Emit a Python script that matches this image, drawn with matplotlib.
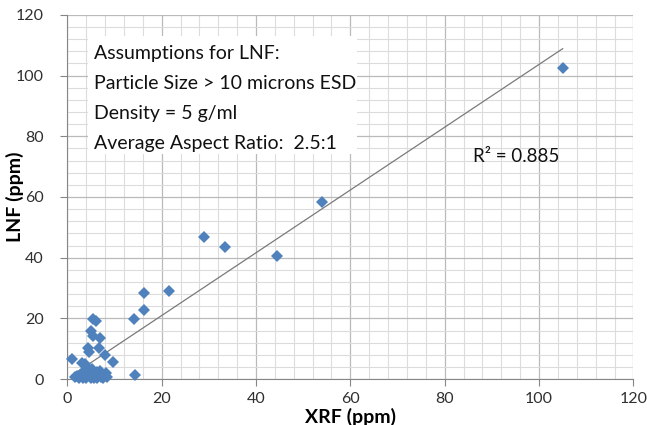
import matplotlib
matplotlib.use('Agg')
import matplotlib.pyplot as plt
from matplotlib.patches import Rectangle
from matplotlib.ticker import MultipleLocator
import numpy as np

plt.rcParams['font.family'] = ['Lato', 'DejaVu Sans']

# XRF vs LNF readings (ppm)
xrf = [105.0, 54.0, 44.4, 33.5, 28.9, 21.6, 16.3, 16.3, 14.1, 14.3,
       5.5, 6.0, 5.0, 5.5, 7.0, 4.3, 6.7, 4.5, 7.9, 0.9,
       3.1, 3.7, 9.7, 8.3, 8.5, 1.6, 4.1,
       2.5, 3.0, 3.5, 4.0, 4.5, 4.8, 5.0, 5.3, 5.6, 5.9,
       6.2, 6.4, 6.7, 7.1, 7.5, 3.3, 4.4, 6.9, 2.1, 5.2]
lnf = [102.5, 58.4, 40.4, 43.5, 46.8, 29.1, 28.4, 22.7, 19.8, 1.3,
       19.8, 19.0, 16.0, 14.2, 13.7, 10.3, 10.3, 8.8, 8.0, 6.5,
       5.4, 5.1, 5.7, 1.9, 0.6, 0.8, 3.8,
       0.5, 1.6, 2.3, 0.3, 1.2, 2.6, 0.5, 1.8, 0.2, 1.1,
       2.2, 0.4, 1.5, 0.7, 0.3, 0.2, 3.1, 2.8, 1.1, 3.4]

assumptions = ['Assumptions for LNF:',
               'Particle Size > 10 microns ESD',
               'Density = 5 g/ml',
               'Average Aspect Ratio:  2.5:1']
r2_label = 'R² = 0.885'

x = np.array(xrf)
y = np.array(lnf)

fig = plt.figure(figsize=(6.47, 4.25), dpi=100)
ax = fig.add_axes([0.104, 0.108, 0.875, 0.857])

ax.set_xlim(0, 120)
ax.set_ylim(0, 120)
ax.xaxis.set_major_locator(MultipleLocator(20))
ax.yaxis.set_major_locator(MultipleLocator(20))
ax.xaxis.set_minor_locator(MultipleLocator(4))
ax.yaxis.set_minor_locator(MultipleLocator(4))
ax.grid(which='minor', color='#dcdcdc', lw=0.8)
ax.grid(which='major', color='#bababa', lw=0.9)
ax.set_axisbelow(True)

for s in ['top', 'right']:
    ax.spines[s].set_visible(False)
for s in ['left', 'bottom']:
    ax.spines[s].set_color('#868686')
ax.tick_params(which='major', direction='out', length=5, color='#868686',
               labelsize=11.5, labelcolor='#303030')
ax.tick_params(axis='y', pad=12)
ax.tick_params(axis='x', pad=4)
ax.tick_params(which='minor', length=0)

# linear trendline
m, b = np.polyfit(x, y, 1)
xl = np.array([x.min(), x.max()])
ax.plot(xl, m * xl + b, color='#7a7a7a', lw=0.9, zorder=2)

ax.plot(x, y, 'D', color='#4f81bd', markersize=6, markeredgewidth=0,
        zorder=3, clip_on=False)

# white box behind the assumptions text
ax.add_patch(Rectangle((0.036, 0.617), 0.476, 0.325, transform=ax.transAxes,
                       facecolor='white', edgecolor='none', zorder=1.5))
for i, line in enumerate(assumptions):
    ax.text(0.048, 0.893 - i * 0.082, line, transform=ax.transAxes,
            fontsize=14, color='#111111', va='center', ha='left', zorder=4)

ax.text(0.716, 0.61, r2_label, transform=ax.transAxes, fontsize=13.5,
        color='#111111', va='center', ha='left', zorder=4)

ax.set_xlabel('XRF (ppm)', fontsize=14, fontweight='bold')
ax.set_ylabel('LNF (ppm)', fontsize=14, fontweight='bold')
ax.xaxis.set_label_coords(0.5, -0.08)
ax.yaxis.set_label_coords(-0.077, 0.5)

fig.savefig('out.png', dpi=100)
